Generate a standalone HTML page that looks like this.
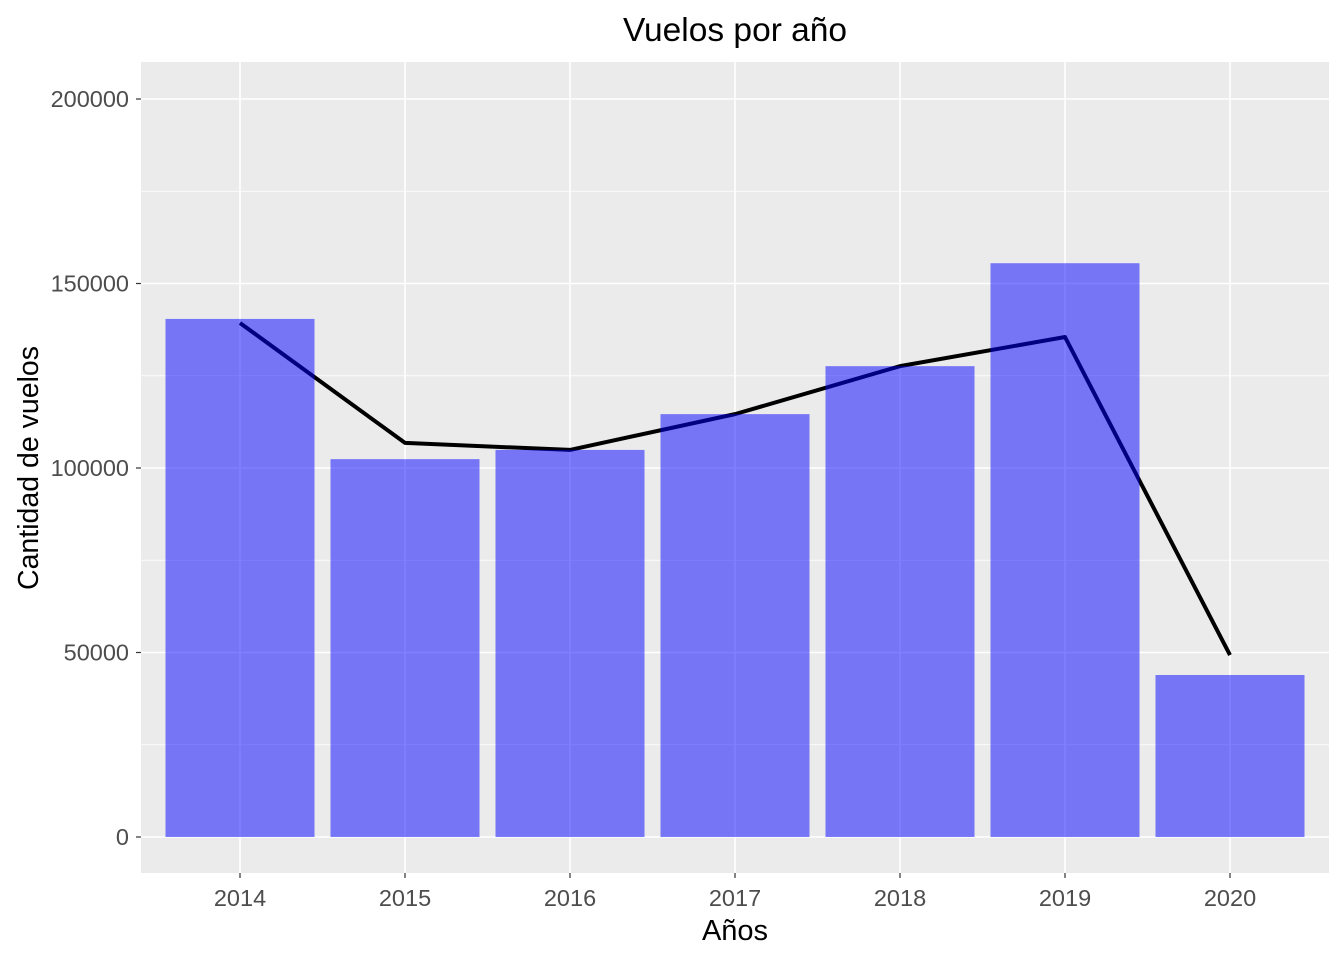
<!DOCTYPE html>
<html><head><meta charset="utf-8"><style>
body{margin:0;background:#fff;}
svg{display:block;font-family:"Liberation Sans",Arial,sans-serif;}
</style></head><body>
<svg id="chart" width="1344" height="960"></svg>
<script>
const years=["2014","2015","2016","2017","2018","2019","2020"];
const barValues=[140400,102400,104900,114600,127600,155500,43900];
const lineValues=[139300,106800,104900,114600,127600,135500,49300];
const yTicks=[0,50000,100000,150000,200000];
const NS="http://www.w3.org/2000/svg";
const svg=document.getElementById('chart');
const L=141,R=1329,T=62,B=873;
const y=v=>837-v/50000*184.5;
const x=i=>240+i*165;
const bw=149;
function mk(tag,attrs,parent){const e=document.createElementNS(NS,tag);for(const k in attrs)e.setAttribute(k,attrs[k]);(parent||svg).appendChild(e);return e;}
const panel=mk('rect',{x:L,y:T,width:R-L,height:B-T,fill:'#EBEBEB'});


for(let i=0;i<yTicks.length-1;i++){const v=(yTicks[i]+yTicks[i+1])/2;
const g=mk('line',{x1:L,x2:R,y1:y(v),y2:y(v),stroke:'#fff','stroke-width':0.8});

}
yTicks.forEach(v=>{const g=mk('line',{x1:L,x2:R,y1:y(v),y2:y(v),stroke:'#fff','stroke-width':1.6});


const tk=mk('line',{x1:L-5,x2:L,y1:y(v),y2:y(v),stroke:'#333','stroke-width':1.2});


const t=mk('text',{x:L-12,y:y(v)+8,'text-anchor':'end','font-size':23.5,fill:'#4D4D4D'});t.textContent=v;

});
years.forEach((yr,i)=>{const g=mk('line',{x1:x(i),x2:x(i),y1:T,y2:B,stroke:'#fff','stroke-width':1.6});


const tk=mk('line',{x1:x(i),x2:x(i),y1:B,y2:B+5,stroke:'#333','stroke-width':1.2});


const t=mk('text',{x:x(i),y:B+33,'text-anchor':'middle','font-size':23.5,fill:'#4D4D4D'});t.textContent=yr;

});
const line=mk('polyline',{points:lineValues.map((v,i)=>x(i)+','+y(v)).join(' '),fill:'none',stroke:'#000','stroke-width':4,'stroke-linejoin':'round'});


barValues.forEach((v,i)=>{const b=mk('rect',{x:x(i)-bw/2,y:y(v),width:bw,height:y(0)-y(v),fill:'rgba(0,0,255,0.5)'});

});
const title=mk('text',{x:735,y:41,'text-anchor':'middle','font-size':33.5,fill:'#000'});title.textContent='Vuelos por año';


const xt=mk('text',{x:735,y:940,'text-anchor':'middle','font-size':29,fill:'#000'});xt.textContent='Años';


const yt=mk('text',{x:0,y:0,'text-anchor':'middle','font-size':28.5,fill:'#000',transform:'translate(38,468) rotate(-90)'});yt.textContent='Cantidad de vuelos';


</script>
</body></html>
